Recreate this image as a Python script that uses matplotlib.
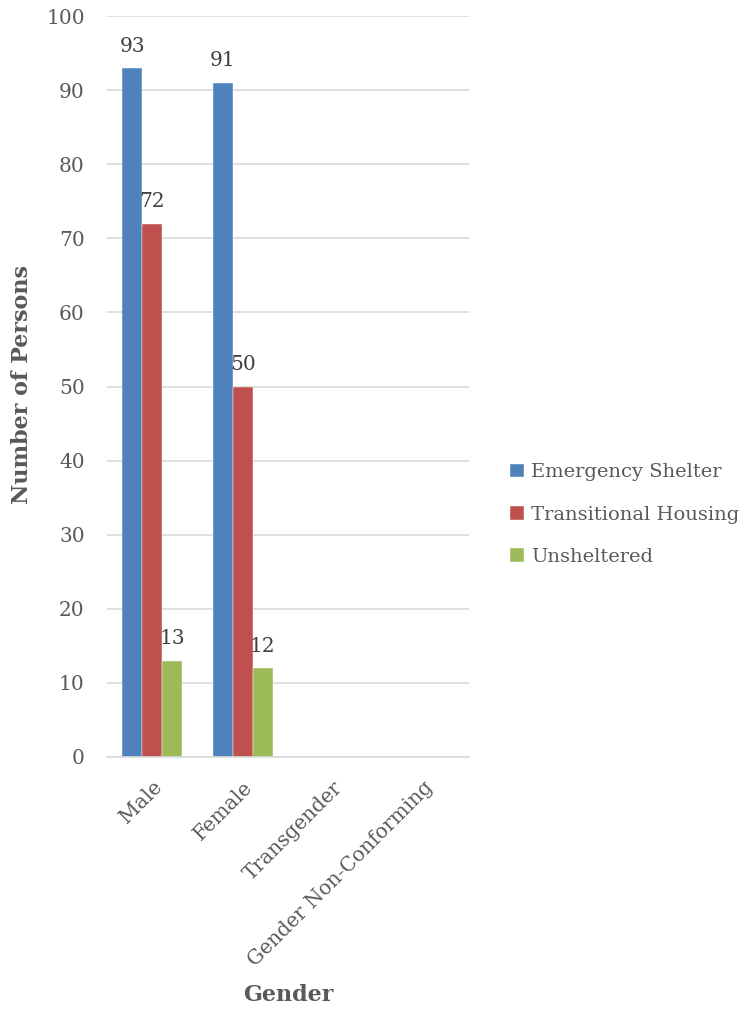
import matplotlib
matplotlib.use("Agg")
import matplotlib.pyplot as plt
import numpy as np

genders = ["Male", "Female", "Transgender", "Gender Non-Conforming"]
series_names = ["Emergency Shelter", "Transitional Housing", "Unsheltered"]
emergency = [93, 91, 0, 0]
transitional = [72, 50, 0, 0]
unsheltered = [13, 12, 0, 0]
colors = ["#4F81BD", "#C0504D", "#9BBB59"]

plt.rcParams["font.family"] = ["DejaVu Serif"]
text_gray = "#595959"

fig = plt.figure(figsize=(7.48, 10.10), dpi=100)
ax = fig.add_axes([0.143, 0.2505, 0.484, 0.7335])

x = np.arange(len(genders))
w = 0.22
for i, (vals, name) in enumerate(zip([emergency, transitional, unsheltered], series_names)):
    pos = x + (i - 1) * w
    ax.bar(pos, vals, w, color=colors[i], label=name, zorder=2,
           edgecolor="white", linewidth=0.3)
    for p, v in zip(pos, vals):
        if v > 0:
            ax.annotate(str(v), (p, v), xytext=(0, 9), textcoords="offset points",
                        ha="center", va="bottom", fontsize=14.5, color="#404040", zorder=3)

ax.set_xlim(-0.5, 3.5)
ax.set_ylim(0, 100)
ax.set_yticks(range(0, 101, 10))
ax.yaxis.grid(True, color="#d9d9d9", linewidth=1.2, zorder=0)
ax.set_axisbelow(True)
for s in ["top", "right", "left"]:
    ax.spines[s].set_visible(False)
ax.spines["bottom"].set_color("#d9d9d9")
ax.spines["bottom"].set_linewidth(1.2)
ax.tick_params(axis="both", length=0, labelsize=14.5, labelcolor=text_gray)
ax.tick_params(axis="y", pad=16)
ax.set_xticks(x)
ax.set_xticklabels(genders, rotation=45, ha="right", rotation_mode="anchor")
ax.tick_params(axis="x", pad=15)

# axis titles placed in figure coordinates
fig.text(22 / 748, 1 - 385 / 1010, "Number of Persons", rotation=90, ha="center", va="center",
         fontsize=16, fontweight="bold", color=text_gray)
fig.text(288 / 748, 1 - 995 / 1010, "Gender", ha="center", va="center",
         fontsize=16, fontweight="bold", color=text_gray)

leg = ax.legend(loc="center left", bbox_to_anchor=(1.065, 0.327), frameon=False,
                fontsize=14, handlelength=0.7, handleheight=0.7, handletextpad=0.4,
                labelspacing=1.25, labelcolor=text_gray)

fig.savefig("out.png", dpi=100)
